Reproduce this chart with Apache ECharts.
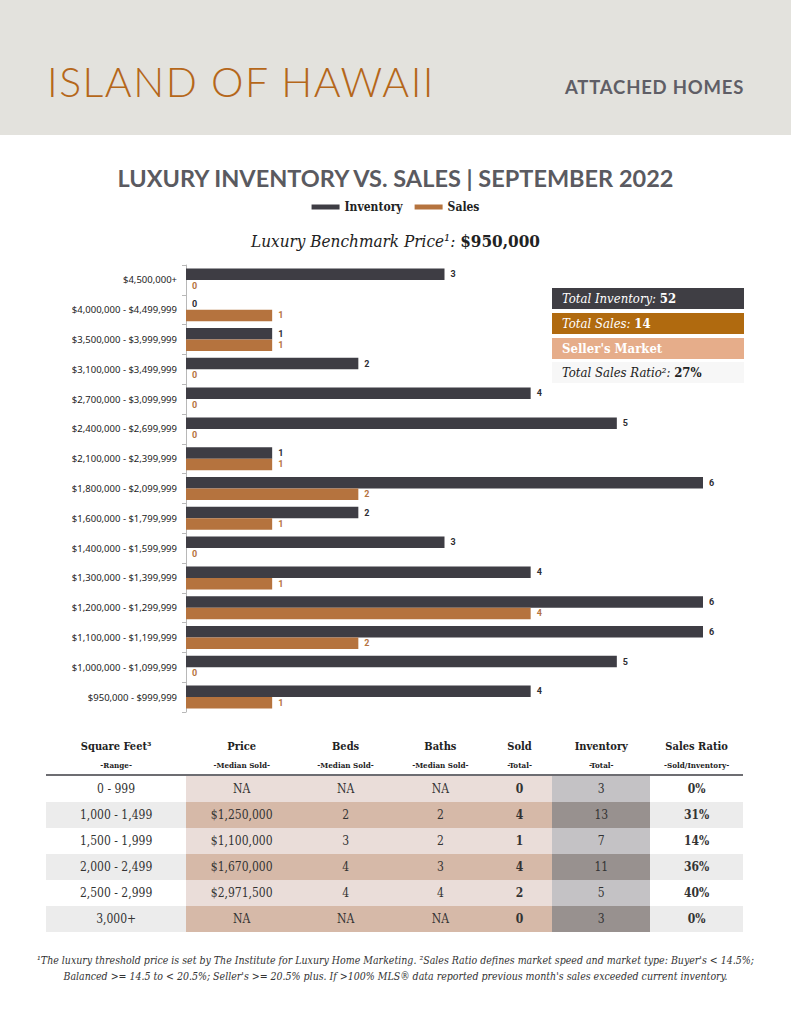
<!DOCTYPE html>
<html>
<head>
<meta charset="utf-8">
<script src="https://cdn.jsdelivr.net/npm/echarts@6/dist/echarts.min.js"></script>
<style>
  html,body{margin:0;padding:0;background:#fff;}
  body{width:791px;height:1024px;position:relative;overflow:hidden;}
  #chart{position:absolute;left:0;top:0;width:791px;height:1024px;}
  .abs{position:absolute;}
  #header{left:0;top:0;width:791px;height:135px;background:#e3e2dd;}
  #h1{left:47px;top:61px;font-family:Lato,"Open Sans",sans-serif;font-weight:300;font-size:41px;color:#b5671a;letter-spacing:1.5px;white-space:nowrap;line-height:1;}
  #h2{left:565px;top:78px;font-family:Lato,sans-serif;font-weight:700;font-size:18.5px;color:#5f5e66;letter-spacing:0.8px;white-space:nowrap;line-height:1;}
  .stat{left:552px;width:192px;height:21px;font-family:"DejaVu Serif Condensed","DejaVu Serif",serif;font-size:13px;line-height:21px;box-sizing:border-box;padding-left:10px;white-space:nowrap;}
  .stat i{font-style:italic;}
  .stat b{font-weight:700;font-style:normal;}
  #table{left:46px;top:738px;width:697px;border-collapse:collapse;font-family:"DejaVu Serif Condensed","DejaVu Serif",serif;color:#333;}
  #table td{text-align:center;padding:0;height:26px;font-size:12px;}
  #table th{font-weight:700;font-size:11px;padding:0;height:36px;vertical-align:top;line-height:18px;color:#222;}
  #table th span{font-size:8px;font-weight:700;}
  #foot{left:0;top:952px;width:791px;text-align:center;font-family:"DejaVu Serif Condensed","DejaVu Serif",serif;font-style:italic;font-size:10.5px;line-height:16px;color:#333;}
</style>
</head>
<body>
<div id="chart"></div>
<div id="header" class="abs"></div>
<div id="h1" class="abs">ISLAND OF HAWAII</div>
<div id="h2" class="abs">ATTACHED HOMES</div>
<div class="abs stat" style="top:288px;background:#3f3e44;color:#fff;"><i>Total Inventory:</i> <b>52</b></div>
<div class="abs stat" style="top:313px;background:#b06a0f;color:#fff;"><i>Total Sales:</i> <b>14</b></div>
<div class="abs stat" style="top:338px;background:#e6ad8a;color:#fff;"><b>Seller's Market</b></div>
<div class="abs stat" style="top:362px;background:#f7f7f7;color:#222;"><i>Total Sales Ratio²:</i> <b>27%</b></div>
<table id="table" class="abs"></table>
<div id="foot" class="abs">¹The luxury threshold price is set by The Institute for Luxury Home Marketing. ²Sales Ratio defines market speed and market type: Buyer's &lt; 14.5%;<br>Balanced &gt;= 14.5 to &lt; 20.5%; Seller's &gt;= 20.5% plus. If &gt;100% MLS® data reported previous month's sales exceeded current inventory.</div>
<script>
// ---- Chart data ----
const categories = [
  "$4,500,000+",
  "$4,000,000 - $4,499,999",
  "$3,500,000 - $3,999,999",
  "$3,100,000 - $3,499,999",
  "$2,700,000 - $3,099,999",
  "$2,400,000 - $2,699,999",
  "$2,100,000 - $2,399,999",
  "$1,800,000 - $2,099,999",
  "$1,600,000 - $1,799,999",
  "$1,400,000 - $1,599,999",
  "$1,300,000 - $1,399,999",
  "$1,200,000 - $1,299,999",
  "$1,100,000 - $1,199,999",
  "$1,000,000 - $1,099,999",
  "$950,000 - $999,999"
];
const inventory = [3, 0, 1, 2, 4, 5, 1, 6, 2, 3, 4, 6, 6, 5, 4];
const sales     = [0, 1, 1, 0, 0, 0, 1, 2, 1, 0, 1, 4, 2, 0, 1];

// ---- Table data ----
const tableHeaders = ["Square Feet³", "Price", "Beds", "Baths", "Sold", "Inventory", "Sales Ratio"];
const tableSubHeaders = ["-Range-", "-Median Sold-", "-Median Sold-", "-Median Sold-", "-Total-", "-Total-", "-Sold/Inventory-"];
const sqftRanges = ["0 - 999", "1,000 - 1,499", "1,500 - 1,999", "2,000 - 2,499", "2,500 - 2,999", "3,000+"];
const medianPrice = ["NA", "$1,250,000", "$1,100,000", "$1,670,000", "$2,971,500", "NA"];
const medianBeds = ["NA", "2", "3", "4", "4", "NA"];
const medianBaths = ["NA", "2", "2", "3", "4", "NA"];
const soldTotal = ["0", "4", "1", "4", "2", "0"];
const inventoryTotal = ["3", "13", "7", "11", "5", "3"];
const salesRatio = ["0%", "31%", "14%", "36%", "40%", "0%"];

// build table
(function(){
  const t = document.getElementById('table');
  const widths = [139, 110, 96, 92, 65, 97, 92];
  let h = '<tr style="border-bottom:2px solid #6d6d72">';
  tableHeaders.forEach((x,i)=>{ h += '<th style="width:'+widths[i]+'px">'+x+'<br><span>'+tableSubHeaders[i]+'</span></th>'; });
  h += '</tr>';
  for (let r = 0; r < sqftRanges.length; r++) {
    const even = r % 2 === 1;
    const base = even ? '#ececec' : '#ffffff';
    const mid = even ? '#d6b9a8' : '#eaddd9';
    const inv = even ? '#98918f' : '#c4c2c5';
    const cells = [
      [sqftRanges[r], base, 400],
      [medianPrice[r], mid, 400],
      [medianBeds[r], mid, 400],
      [medianBaths[r], mid, 400],
      [soldTotal[r], mid, 700],
      [inventoryTotal[r], inv, 400],
      [salesRatio[r], base, 700]
    ];
    h += '<tr>';
    cells.forEach(c => { h += '<td style="background:'+c[1]+';font-weight:'+c[2]+'">'+c[0]+'</td>'; });
    h += '</tr>';
  }
  t.innerHTML = h;
})();

const chart = echarts.init(document.getElementById('chart'), null, {renderer: 'svg'});
const serif = '"DejaVu Serif Condensed","DejaVu Serif",serif';
chart.setOption({
  animation: false,
  title: [{
    text: 'LUXURY INVENTORY VS. SALES | SEPTEMBER 2022',
    left: 'center', top: 161,
    textStyle: {fontFamily: 'Lato, sans-serif', fontWeight: 700, fontSize: 23.5, color: '#5a5a60'}
  }, {
    text: '{a|Luxury Benchmark Price¹: }{b|$950,000}',
    left: 'center', top: 227,
    textStyle: {
      fontWeight: 'normal',
      rich: {
        a: {fontFamily: serif, fontStyle: 'italic', fontWeight: 'normal', fontSize: 17, color: '#222'},
        b: {fontFamily: serif, fontWeight: 700, fontSize: 17, color: '#222'}
      }
    }
  }],
  legend: {
    top: 196, left: 'center',
    itemWidth: 28, itemHeight: 5, itemGap: 12,
    icon: 'rect',
    textStyle: {fontFamily: serif, fontWeight: 700, fontSize: 12, color: '#222'},
    data: ['Inventory', 'Sales']
  },
  grid: {left: 186, right: 88, top: 265, height: 447, containLabel: false},
  xAxis: {type: 'value', min: 0, max: 6, show: false},
  yAxis: {
    type: 'category', data: categories, inverse: true,
    axisLine: {show: true, lineStyle: {color: '#b8b8b8'}},
    axisTick: {show: true, length: 4, lineStyle: {color: '#b8b8b8'}},
    axisLabel: {fontFamily: '"Noto Sans", sans-serif', fontSize: 9.5, color: '#222', margin: 9}
  },
  series: [{
    name: 'Inventory', type: 'bar', data: inventory,
    barWidth: 11.5, barGap: '0%',
    itemStyle: {color: '#3e3d44'},
    label: {show: true, position: 'right', distance: 6, fontFamily: 'Roboto, sans-serif', fontWeight: 700, fontSize: 9, color: '#2d2d33'}
  }, {
    name: 'Sales', type: 'bar', data: sales,
    barWidth: 11.5,
    itemStyle: {color: '#b5733e'},
    label: {show: true, position: 'right', distance: 6, fontFamily: 'Roboto, sans-serif', fontWeight: 700, fontSize: 9, color: '#b5733e'}
  }],
  color: ['#3e3d44', '#b5671a']
});
</script>
</body>
</html>
